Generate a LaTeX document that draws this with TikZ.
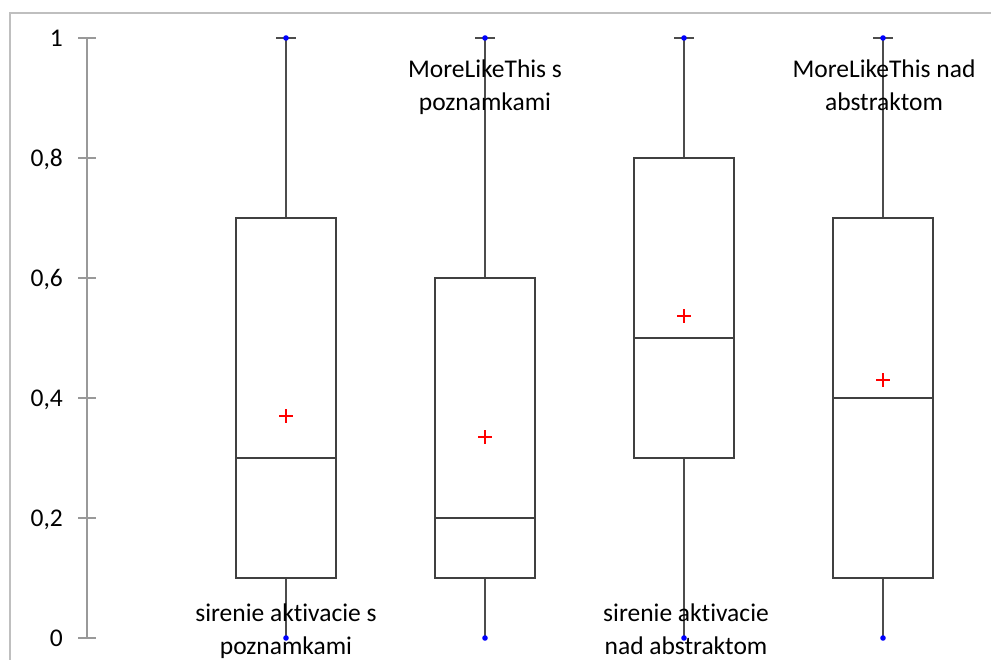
\documentclass[tikz,border=0pt]{standalone}
\usepackage{fontspec}
\setmainfont{Carlito}[Ligatures={NoCommon}]
\definecolor{meanred}{RGB}{255,0,0}
\begin{document}
\begin{tikzpicture}[x=1pt,y=-1pt,
  frame/.style={draw=black!25,line width=1.3pt},
  axisline/.style={draw=black!40,line width=1.2pt},
  whisk/.style={draw=black!70,line width=1.2pt},
  boxline/.style={draw=black!75,line width=1.4pt},
  meanmark/.style={fill=meanred},
  enddot/.style={fill=blue},
  catlabel/.style={font=\fontsize{25.5}{33}\selectfont, align=center, inner sep=0pt, anchor=base},
  ticklab/.style={font=\fontsize{25.5}{30}\selectfont, anchor=base east, inner sep=0pt}]
\useasboundingbox (0,0) rectangle (991,660);
\fill[white] (0,0) rectangle (991,660);
% frame
\draw[frame] (10,660) -- (10,13) -- (991,13);
% axis
\draw[axisline] (87,38) -- (87,638);
\foreach \v/\t in {0/0,0.2/{0,2},0.4/{0,4},0.6/{0,6},0.8/{0,8},1/1}{
  \pgfmathsetmacro{\yy}{638-600*\v}
  \draw[axisline] (78,\yy) -- (96,\yy);
  \node[ticklab] at (63,\yy+8.5) {\t};
}
% boxes: center, q1, median, q3
\foreach \c/\qa/\md/\qb in {286/0.1/0.3/0.7, 485/0.1/0.2/0.6, 684/0.3/0.5/0.8, 883/0.1/0.4/0.7}{
  \pgfmathsetmacro{\ya}{638-600*\qa}
  \pgfmathsetmacro{\ym}{638-600*\md}
  \pgfmathsetmacro{\yb}{638-600*\qb}
  \draw[whisk] (\c,38) -- (\c,\yb);
  \draw[whisk] (\c,\ya) -- (\c,638);
  \draw[whisk] (\c-10,38) -- (\c+10,38);
  \draw[boxline] (\c-50,\ya) rectangle (\c+50,\yb);
  \draw[boxline] (\c-50,\ym) -- (\c+50,\ym);
  \fill[enddot] (\c,38) circle (2.8);
  \fill[enddot] (\c,638) circle (2.8);
}
% means (red plus marks)
\foreach \mx/\my in {286/416, 485/437, 684/316, 883/380}{
  \fill[meanmark] (\mx-7,\my-0.6) rectangle (\mx+7,\my+0.6);
  \fill[meanmark] (\mx-0.6,\my-7) rectangle (\mx+0.6,\my+7);
}
% category labels (anchor = baseline of the last line)
\node[catlabel] (l1) at (286,654) {sirenie aktivacie s\\poznamkami};
\node[catlabel] (l2) at (485,111) {MoreLikeThis s\\poznamkami};
\node[catlabel] (l3) at (686,654) {sirenie aktivacie\\nad abstraktom};
\node[catlabel] (l4) at (884,111) {MoreLikeThis nad\\abstraktom};
\end{tikzpicture}
\end{document}
